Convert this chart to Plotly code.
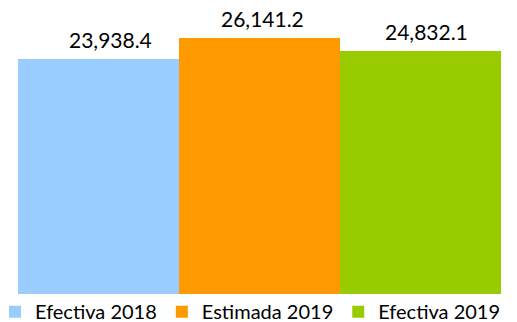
import plotly.graph_objects as go

# Series shown as three adjacent bars
series = ["Efectiva 2018", "Estimada 2019", "Efectiva 2019"]
values = [23938.4, 26141.2, 24832.1]
colors = ["#99CCFF", "#FF9900", "#99CC00"]

# horizontal nudge (px) of each value label relative to its bar centre
label_nudge = [12, 3, 6]

fig = go.Figure()
for i, (name, val, col) in enumerate(zip(series, values, colors)):
    fig.add_trace(go.Bar(
        x=[i], y=[val], name=name,
        marker=dict(color=col, line=dict(width=0)),
        width=1, hoverinfo="name+y",
    ))
    fig.add_annotation(
        x=i, y=val, xref="x", yref="y",
        text=f"{val:,.1f}", showarrow=False,
        xanchor="center", yanchor="bottom",
        xshift=label_nudge[i], yshift=5,
        font=dict(family="Lato", size=21, color="#000000"),
    )

plot_w = 517 - 18
fig.update_layout(
    width=517, height=322,
    margin=dict(l=18, r=0, t=0, b=28, autoexpand=False),
    paper_bgcolor="white", plot_bgcolor="white",
    barmode="overlay", bargap=0,
    showlegend=True,
    legend=dict(orientation="h", x=-23 / plot_w, xanchor="left",
                y=-0.06, yanchor="middle",
                font=dict(family="Lato", size=20, color="#000000"),
                itemwidth=30, traceorder="normal",
                bgcolor="rgba(0,0,0,0)"),
    xaxis=dict(range=[-0.5, -0.5 + 3 * plot_w / 483], visible=False),
    yaxis=dict(range=[0, 30000], visible=False),
)

fig.write_html("out.html")
